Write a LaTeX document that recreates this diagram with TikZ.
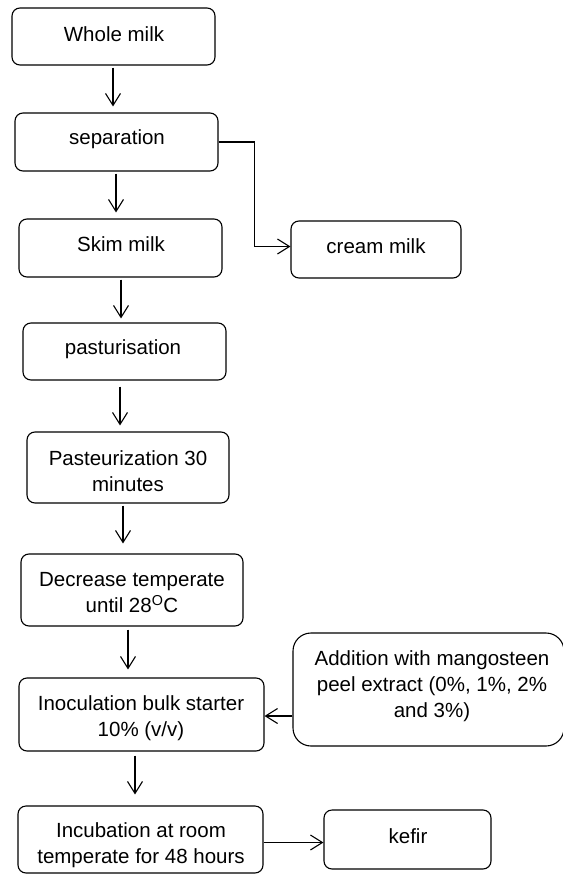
\documentclass[tikz,border=0pt]{standalone}
\usepackage{fontspec}
\setmainfont{Liberation Sans}
\usetikzlibrary{arrows.meta,fit}
\begin{document}
\begin{tikzpicture}[x=1pt,y=-1pt,
  box/.style={draw, line width=1.1pt, rounded corners=8pt, inner sep=0pt},
  bigbox/.style={box, rounded corners=18pt},
  txt/.style={font=\fontsize{20.5}{26}\selectfont, align=center, inner sep=0pt},
  arr/.style={draw, line width=1.1pt, -{Straight Barb[length=12pt,width=15pt,line width=1.1pt]}}]
\useasboundingbox (0,0) rectangle (562,874);
% boxes
\node[box, fit={(12,8) (215,65)}] (wm) {};
\node[box, fit={(15,113) (218,171)}] (sep) {};
\node[box, fit={(19,219) (222,277)}] (skim) {};
\node[box, fit={(291,221) (461,278)}] (cream) {};
\node[box, fit={(23,323) (226,380)}] (past) {};
\node[box, fit={(27,432) (229,503)}] (p30) {};
\node[box, fit={(21,554) (243,626)}] (dec) {};
\node[box, fit={(19,678) (264,751)}] (inoc) {};
\node[bigbox, fit={(293,633) (564,746)}] (add) {};
\node[box, fit={(18,806) (263,873)}] (inc) {};
\node[box, fit={(324,810) (491,869)}] (kefir) {};
% texts
\node[txt] (wmt) at (114,34) {Whole milk};
\node[txt] (sept) at (117,139) {separation};
\node[txt] (skimt) at (121,244) {Skim milk};
\node[txt] (creamt) at (376,246) {cream milk};
\node[txt] (pastt) at (123,349) {pasturisation};
\node[txt] (p30t) at (128,471) {Pasteurization 30\\minutes};
\node[txt] (dect) at (132,593) {Decrease temperate\\until 28\textsuperscript{O}C};
\node[txt] (inoct) at (141,718) {Inoculation bulk starter\\10\% (v/v)};
\node[txt] (addt) at (432,686) {Addition with mangosteen\\peel extract (0\%, 1\%, 2\%\\and 3\%)};
\node[txt] (inct) at (141,845) {Incubation at room\\temperate for 48 hours};
\node[txt] (kefirt) at (408,836) {kefir};
% connectors
\draw[arr, shorten <=2pt, shorten >=6pt] ([xshift=-0.5pt]wm.south) -- ([xshift=-0.5pt]wm.south |- sep.north);
\draw[arr, shorten <=2pt, shorten >=6pt] ([xshift=-0.5pt]sep.south) -- ([xshift=-0.5pt]sep.south |- skim.north);
\draw[arr, shorten <=2pt, shorten >=4pt] ([xshift=0.5pt]skim.south) -- ([xshift=0.5pt]skim.south |- past.north);
\draw[arr, shorten <=6pt, shorten >=6pt] ([xshift=-4.5pt]past.south) -- ([xshift=-4.5pt]past.south |- p30.north);
\draw[arr, shorten <=2pt, shorten >=10pt] ([xshift=-5pt]p30.south) -- ([xshift=-5pt]p30.south |- dec.north);
\draw[arr, shorten <=3pt, shorten >=8pt] ([xshift=-4pt]dec.south) -- ([xshift=-4pt]dec.south |- inoc.north);
\draw[arr, shorten <=4pt, shorten >=11pt] ([xshift=-6.5pt]inoc.south) -- ([xshift=-6.5pt]inoc.south |- inc.north);
\draw[arr] (sep.east) -- ++(36,0) |- ([yshift=3pt]cream.west);
\draw[arr] ([yshift=-1.5pt]add.west |- inoc.east) -- ([yshift=-1.5pt]inoc.east);
\draw[arr] ([yshift=-3pt]inc.east) -- ([yshift=-3pt]inc.east -| kefir.west);
\end{tikzpicture}
\end{document}
